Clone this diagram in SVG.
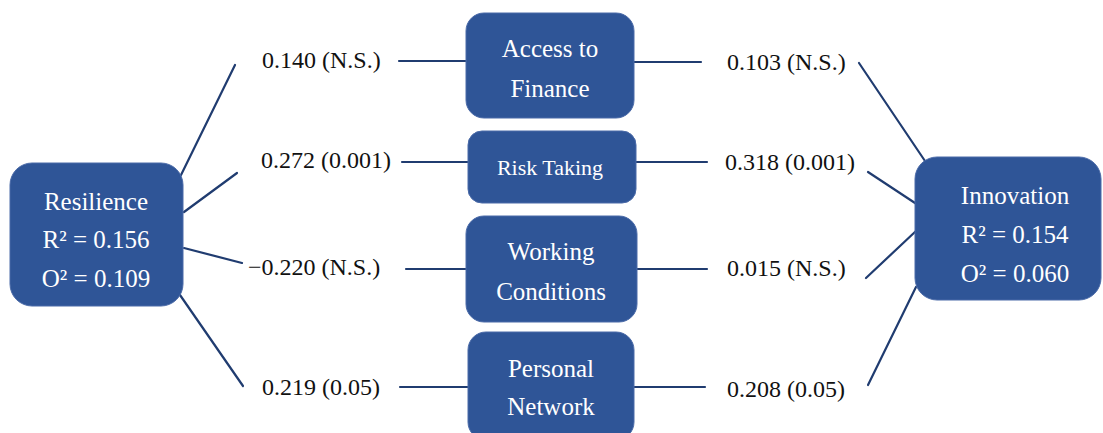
<svg xmlns="http://www.w3.org/2000/svg" width="1103" height="433" viewBox="0 0 1103 433">
<style>
.box{fill:#2F5597;stroke:#4a6aa8;stroke-width:1}
.bt{font-family:"Liberation Serif",serif;font-size:25px;fill:#ffffff;text-anchor:middle}
.lb{font-family:"Liberation Serif",serif;font-size:24px;fill:#111111}
.c line{stroke:#203c70;stroke-width:2.2;stroke-linecap:round}
</style>
<rect width="1103" height="433" fill="#ffffff"/>
<g class="c" id="connectors">
<line x1="181" y1="175" x2="235" y2="65"/>
<line x1="184" y1="212" x2="237" y2="173"/>
<line x1="184" y1="248" x2="242" y2="263"/>
<line x1="180" y1="295" x2="243" y2="386"/>
<line x1="399" y1="61" x2="466" y2="61"/>
<line x1="402" y1="162" x2="468" y2="162"/>
<line x1="406" y1="269" x2="466" y2="269"/>
<line x1="400" y1="387" x2="468" y2="387"/>
<line x1="634" y1="62" x2="701" y2="62"/>
<line x1="636" y1="162" x2="707" y2="162"/>
<line x1="637" y1="269" x2="707" y2="269"/>
<line x1="634" y1="387" x2="705" y2="387"/>
<line x1="859" y1="63" x2="925" y2="161"/>
<line x1="868" y1="172" x2="915" y2="203"/>
<line x1="866" y1="278" x2="916" y2="231"/>
<line x1="868" y1="385" x2="916" y2="287"/>
</g>
<g id="labels">
<text class="lb" x="262" y="68">0.140 (N.S.)</text>
<text class="lb" x="261" y="168">0.272 (0.001)</text>
<text class="lb" x="248" y="275">−0.220 (N.S.)</text>
<text class="lb" x="262" y="395">0.219 (0.05)</text>
<text class="lb" x="727" y="70">0.103 (N.S.)</text>
<text class="lb" x="725" y="170">0.318 (0.001)</text>
<text class="lb" x="727" y="276">0.015 (N.S.)</text>
<text class="lb" x="727" y="397">0.208 (0.05)</text>
</g>
<g id="resilience">
<rect class="box" x="10" y="163" width="173" height="143" rx="22"/>
<text class="bt" x="96" y="210">Resilience</text>
<text class="bt" x="96" y="248">R² = 0.156</text>
<text class="bt" x="96" y="287">O² = 0.109</text>
</g>
<g id="innovation">
<rect class="box" x="915" y="157" width="186" height="143" rx="22"/>
<text class="bt" x="1015" y="204">Innovation</text>
<text class="bt" x="1015" y="243">R² = 0.154</text>
<text class="bt" x="1015" y="282">O² = 0.060</text>
</g>
<g id="access">
<rect class="box" x="466" y="13" width="168" height="105" rx="18"/>
<text class="bt" x="550" y="57">Access to</text>
<text class="bt" x="550" y="97">Finance</text>
</g>
<g id="risk">
<rect class="box" x="468" y="131" width="168" height="72" rx="14"/>
<text class="bt" x="550" y="175" style="font-size:22px">Risk Taking</text>
</g>
<g id="working">
<rect class="box" x="466" y="216" width="171" height="106" rx="18"/>
<text class="bt" x="551" y="260">Working</text>
<text class="bt" x="551" y="300">Conditions</text>
</g>
<g id="personal">
<rect class="box" x="468" y="332" width="166" height="108" rx="18"/>
<text class="bt" x="551" y="377">Personal</text>
<text class="bt" x="551" y="415">Network</text>
</g>
</svg>
